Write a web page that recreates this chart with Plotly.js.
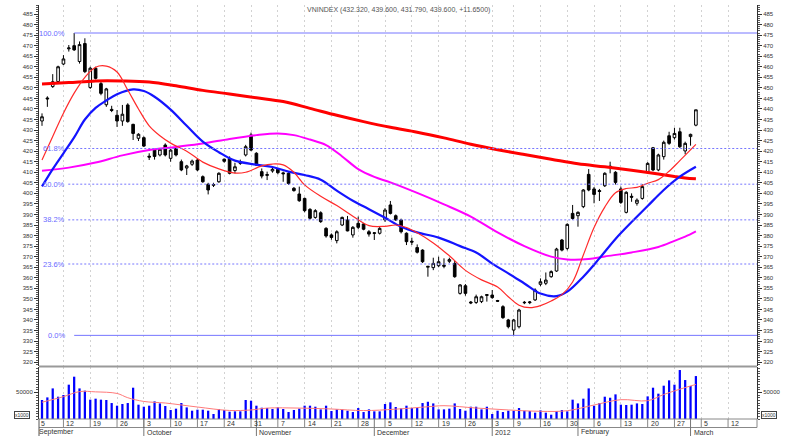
<!DOCTYPE html>
<html><head><meta charset="utf-8">
<script src="https://cdn.plot.ly/plotly-3.0.1.min.js"></script>
<style>html,body{margin:0;padding:0;background:#fff;}#chart{width:793px;height:436px;}</style>
</head><body><div id="chart"></div>
<script>
// ---- Daily candles (trading-day index 0 = 6 Sep 2011 ... 122 = 2 Mar 2012)
const openP = [434.3,445.2,450.6,453.0,461.3,468.5,470.0,462.5,471.0,450.2,
459.3,452.0,442.0,439.8,437.0,434.3,441.9,432.7,426.1,426.4,
417.6,420.5,418.2,422.9,416.6,421.3,415.0,412.0,413.8,415.8,
407.9,404.3,403.8,405.5,416.2,416.6,410.8,414.2,418.2,427.7,
419.0,410.3,408.5,410.6,411.4,409.7,409.5,402.4,399.7,397.6,
392.4,388.6,390.8,383.4,380.3,377.6,385.0,387.4,380.3,385.8,
385.5,381.8,381.0,381.1,387.4,394.5,389.4,387.4,381.1,377.3,
374.3,373.1,365.0,364.8,365.7,365.9,367.8,366.8,352.6,356.2,
348.5,348.3,348.7,351.6,351.8,349.2,346.3,340.0,335.2,336.8,
348.4,348.2,349.5,356.9,357.4,360.5,363.2,377.9,373.9,390.5,
389.4,393.7,409.0,402.1,401.3,403.6,412.4,410.0,402.1,391.0,
398.6,395.3,397.6,410.0,421.6,411.1,417.4,427.3,426.4,429.2,
420.1,426.9,432.32];
const highP = [437.9,446.0,456.5,460.5,465.5,470.3,476.0,472.0,473.5,460.0,
460.0,453.0,450.0,441.5,439.5,441.9,442.7,433.0,428.5,427.0,
419.0,421.0,421.5,423.7,421.0,422.0,416.0,413.5,416.0,416.5,
408.5,405.0,405.0,410.0,416.5,417.5,414.5,416.0,423.0,428.8,
419.5,411.8,410.3,412.6,412.0,410.3,410.0,403.0,403.2,398.0,
393.0,392.5,391.5,384.0,381.0,382.5,389.0,389.3,384.5,389.0,
386.0,382.6,381.6,384.0,393.0,396.4,390.0,388.0,381.5,379.0,
375.8,373.5,365.6,369.5,370.0,369.2,369.5,368.0,357.0,357.0,
349.0,352.0,351.5,352.3,354.2,349.5,347.0,340.5,340.5,345.3,
349.0,349.0,355.0,359.7,362.5,363.5,374.2,378.4,385.8,394.5,
391.5,402.0,411.5,403.0,402.1,410.0,415.0,410.5,403.2,401.0,
400.0,397.6,404.3,414.8,422.0,418.8,425.0,429.2,431.1,431.1,
424.5,428.3,439.6];
const lowP = [432.0,441.0,450.0,452.5,460.8,467.2,467.5,461.5,457.0,449.5,
454.0,446.5,441.0,438.5,431.5,432.0,433.5,425.3,424.8,422.0,
415.8,416.0,417.5,417.5,415.0,417.5,410.5,408.7,413.0,410.5,
405.0,399.5,403.0,405.0,414.5,409.0,409.5,413.5,417.5,420.0,
413.0,407.1,406.3,409.8,409.0,405.5,404.0,400.8,396.0,391.0,
387.6,388.0,386.0,379.0,378.0,376.3,384.5,382.0,379.0,383.0,
382.5,379.5,377.9,380.5,386.5,390.0,387.0,381.0,375.5,375.5,
371.5,367.0,360.5,363.6,365.0,364.5,367.0,360.0,352.0,351.5,
347.5,347.6,348.0,348.7,350.0,348.5,340.5,336.0,332.7,336.0,
347.5,347.5,349.0,356.0,356.5,360.0,362.8,372.5,373.0,387.5,
384.2,393.0,401.0,395.3,396.4,403.0,409.5,404.2,395.0,390.5,
396.0,394.2,397.0,409.5,410.5,410.5,416.0,423.0,425.5,421.5,
418.5,422.6,431.79];
const closeP = [436.3,444.8,452.9,460.0,463.7,468.9,468.0,470.5,457.7,459.3,
454.5,447.4,449.5,439.3,434.3,437.5,434.0,428.4,428.0,422.4,
417.2,417.5,420.9,418.2,420.5,418.2,411.1,413.0,415.3,411.1,
405.5,401.6,404.2,409.5,415.2,409.5,412.6,415.0,422.1,420.5,
413.4,408.2,408.9,411.4,409.8,409.3,404.7,401.3,396.5,391.8,
388.2,391.8,386.6,379.8,379.1,381.8,388.6,382.2,383.9,383.9,
383.0,380.7,381.3,383.4,392.1,390.5,387.4,381.8,377.1,376.9,
372.1,367.6,365.4,366.8,367.6,365.5,368.6,360.5,356.6,352.6,
348.1,351.0,351.0,352.0,350.6,348.9,341.1,336.8,340.0,344.7,
348.2,348.5,354.2,358.1,358.9,362.9,373.6,373.1,385.3,388.1,
391.0,401.6,401.6,399.5,400.9,409.5,412.8,405.2,395.7,400.5,
398.2,396.8,403.2,414.2,411.1,418.2,424.2,423.7,428.4,422.1,
423.7,427.95,439.6];
const volume = [35700,40600,57500,41900,45100,64500,79500,57500,53200,36300,
38200,36300,35700,30000,25000,28200,30000,58800,26900,23100,
25000,33100,29300,24400,16900,19400,30000,21800,15600,17500,
17500,15600,9400,18800,16900,13700,14400,14400,35700,34400,
25000,21200,20600,18800,21800,18800,13100,16900,19400,25000,
25000,23100,18100,25000,15000,18100,18100,15600,13100,20600,
13100,18100,14400,14400,28200,31300,22500,19900,25000,20600,
20600,30000,32400,29300,18100,18100,19400,29300,18800,15600,
23100,23100,18100,23100,9400,15600,13100,15600,15600,20600,
15600,15000,11900,16200,11900,8100,15000,16900,14400,36300,
29300,38200,57500,25000,30000,41900,40000,46300,26900,26300,
26900,29300,28200,42500,58800,47600,62600,72600,64500,92000,
73200,62000,80700];

// ---- Moving averages (day index, value)
const maLongIdx = [0,5,10,15,20,25,30,35,40,45,50,55,60,65,70,75,80,85,90,95,100,105,110,115,118,120,122];
const maLongVal = [451.8,452.5,453.3,453.3,452.8,451.0,448.8,447.1,445.3,443.5,440.3,437.0,434.0,431.3,429.0,426.3,423.3,420.7,418.4,416.2,414.0,412.6,411.0,409.2,408.0,407.3,406.9];
const maSlowIdx = [0,5,10,15,20,25,30,35,40,44,47,50,53,56,59,62,65,70,75,80,85,90,95,98,102,105,110,115,118,120,122];
const maSlowVal = [410.7,412.2,414.6,418.0,420.5,422.0,423.6,425.8,427.6,428.4,427.6,425.5,422.9,417.5,411.5,407.8,405.2,400.2,394.8,389.0,381.5,375.0,370.0,368.7,368.9,370.1,372.0,374.6,377.5,379.5,382.0];
const maMidIdx = [0,2,4,6,8,10,12,14,17,19,21,24,27,30,33,36,40,43,46,49,52,55,58,61,64,67,70,74,78,81,84,87,90,93,96,98,101,104,107,110,113,116,119,122];
const maMidVal = [403.3,411.5,419.0,426.5,435.0,440.5,444.0,447.0,449.3,448.5,445.8,439.7,432.0,424.5,419.5,415.5,413.6,412.5,410.3,408.7,406.5,401.3,396.5,392.5,388.4,384.2,381.5,379.0,375.0,372.0,366.7,362.1,357.3,352.5,351.3,353.4,360.5,369.2,378.4,386.4,394.0,401.6,407.9,412.6];
const maFastIdx = [0,2,4,6,8,10,12,14,16,18,20,22,24,27,30,33,36,38,41,43,45,47,49,52,55,58,61,64,66,68,70,73,76,79,82,85,87,89,91,93,95,97,99,101,103,105,107,109,111,113,115,117,119,122];
const maFastVal = [415.8,427.0,438.0,447.5,455.0,459.8,460.3,457.5,449.0,440.0,432.0,427.3,423.8,420.0,414.8,411.6,409.6,410.0,413.0,413.9,413.5,410.0,404.0,398.6,394.2,389.2,384.7,384.4,385.0,383.8,381.3,376.5,370.4,363.5,359.0,355.6,351.0,347.0,345.8,346.8,349.0,352.0,358.0,370.8,383.8,393.5,400.3,402.3,402.8,404.8,406.5,410.5,415.5,423.2];
const volMaIdx = [0,4,7,10,14,16,19,23,29,35,39,42,48,54,60,66,72,75,81,87,93,98,103,108,113,116,119,122];
const volMaVal = [31500,42000,51500,51000,48000,40000,33000,30000,22500,16000,17000,20500,20500,18800,15800,18500,23000,25000,20600,17000,14400,15600,26300,36300,34400,46000,56000,65000];

// ---- Date axis
const weekIdx = [-1,4,9,14,19,24,29,34,39,44,49,54,59,64,69,74,79,84,88,93,98,103,108,113,118,123,128];
const weekLabels = ['5','12','19','26','3','10','17','24','31','7','14','21','28','5','12','19','26','3','9','16','30','6','13','20','27','5','12'];
const monthIdx = [-1,19,40,62,84,100,121];
const monthLabels = ['September','October','November','December','2012','February','March'];
const fibRatios = [1.0,0.618,0.5,0.382,0.236,0.0];
const fibLabels = ['100.0%','61.8%','50.0%','38.2%','23.6%','0.0%'];

const XR = [-0.56, 133.4];
const PH = 431; // plot-area height (top margin 5, bottom 0)
const py = p => (436 - p) / PH;           // pixel row -> paper
const ix = i => (i - XR[0]) / (XR[1] - XR[0]); // day index -> paper x

const days = openP.map((_, i) => i);
const FONT = 'Liberation Sans, Arial, sans-serif';

const traces = [
  {type:'candlestick', x:days, open:openP, high:highP, low:lowP, close:closeP,
   xaxis:'x', yaxis:'y', hoverinfo:'skip',
   increasing:{line:{color:'#000', width:1}, fillcolor:'#fff'},
   decreasing:{line:{color:'#000', width:1}, fillcolor:'#000'}},
  {type:'scatter', mode:'lines', x:maSlowIdx, y:maSlowVal, line:{color:'#ff00ff', width:2, shape:'spline'}, xaxis:'x', yaxis:'y', hoverinfo:'skip'},
  {type:'scatter', mode:'lines', x:maLongIdx, y:maLongVal, line:{color:'#ff0000', width:3, shape:'spline'}, xaxis:'x', yaxis:'y', hoverinfo:'skip'},
  {type:'scatter', mode:'lines', x:maMidIdx, y:maMidVal, line:{color:'#1414ff', width:2.2, shape:'spline'}, xaxis:'x', yaxis:'y', hoverinfo:'skip'},
  {type:'scatter', mode:'lines', x:maFastIdx, y:maFastVal, line:{color:'#ff2a2a', width:1.2, shape:'spline'}, xaxis:'x', yaxis:'y', hoverinfo:'skip'},
  {type:'bar', x:days, y:volume, width:0.42, marker:{color:'#0000ff', line:{width:0}}, xaxis:'x', yaxis:'y2', hoverinfo:'skip'},
  {type:'scatter', mode:'lines', x:volMaIdx, y:volMaVal, line:{color:'#ff7a7a', width:1, shape:'spline'}, xaxis:'x', yaxis:'y2', hoverinfo:'skip'},
  {type:'scatter', mode:'markers', x:[0], y:[400], marker:{opacity:0, size:1}, xaxis:'x', yaxis:'y3', hoverinfo:'skip'},
  {type:'scatter', mode:'markers', x:[0], y:[0], marker:{opacity:0, size:1}, xaxis:'x', yaxis:'y4', hoverinfo:'skip'}
];

const priceAxis = {
  range:[318.18, 489.27], tickmode:'linear', tick0:320, dtick:5,
  ticks:'outside', ticklen:4, tickwidth:1, tickcolor:'#333',
  showline:true, linecolor:'#333', linewidth:1, showgrid:false, zeroline:false,
  tickfont:{family:FONT, size:6, color:'#333'},
  minor:{tick0:320, dtick:1, ticks:'outside', ticklen:2, tickcolor:'#555', showgrid:false},
  fixedrange:true
};
const volAxis = {
  range:[0, 97700], tickmode:'array', tickvals:[50000], ticktext:['50000'],
  ticks:'outside', ticklen:4, tickwidth:1, tickcolor:'#333',
  showline:true, linecolor:'#333', linewidth:1, showgrid:false, zeroline:false,
  tickfont:{family:FONT, size:6, color:'#333'},
  minor:{tick0:0, dtick:5000, ticks:'outside', ticklen:2, tickcolor:'#555', showgrid:false},
  fixedrange:true
};

const hi = Math.max(...highP), lo = Math.min(...lowP);
const hiIdx = highP.indexOf(hi);
const shapes = [], annotations = [];

fibRatios.forEach((r, k) => {
  const lvl = lo + r * (hi - lo);
  const solid = (r === 1 || r === 0);
  shapes.push({type:'line', xref:'x', yref:'y', x0: solid ? hiIdx : 4.9, x1: XR[1], y0:lvl, y1:lvl,
    line:{color:'#7676ff', width:1, dash: solid ? 'solid' : '2px,2px'}});
  annotations.push({xref:'x', yref:'y', x:4.7, y:lvl, xanchor:'right', yanchor:'middle', showarrow:false,
    text:fibLabels[k], font:{family:FONT, size:7.5, color:'#6a6aff'}});
});

// panel separator and date strip
shapes.push({type:'line', xref:'paper', yref:'paper', x0:0, x1:1, y0:py(366.5), y1:py(366.5), line:{color:'#999', width:1.8}});
shapes.push({type:'line', xref:'paper', yref:'paper', x0:0, x1:1, y0:py(419), y1:py(419), line:{color:'#888', width:1}});
shapes.push({type:'line', xref:'paper', yref:'paper', x0:0, x1:1, y0:py(427.5), y1:py(427.5), line:{color:'#888', width:1}});
shapes.push({type:'line', xref:'paper', yref:'paper', x0:0, x1:0, y0:py(436), y1:py(419), line:{color:'#555', width:1}});
shapes.push({type:'line', xref:'paper', yref:'paper', x0:1, x1:1, y0:py(427.5), y1:py(419), line:{color:'#888', width:1}});

weekIdx.forEach((w, k) => {
  const px = ix(w);
  if (px > 0.001 && px < 0.999) {
    shapes.push({type:'line', xref:'paper', yref:'paper', x0:px, x1:px, y0:py(427.5), y1:py(419), line:{color:'#888', width:1}});
  }
  if (px < 0.985) {
    annotations.push({xref:'paper', yref:'paper', x:Math.max(px, 0), y:py(423.5), xanchor:'left', yanchor:'middle',
      xshift: px < 0 ? 0 : 1, showarrow:false, text:weekLabels[k], font:{family:FONT, size:7, color:'#333'}});
  }
});
monthIdx.forEach((m, k) => {
  const px = ix(m);
  if (px > 0.001) {
    shapes.push({type:'line', xref:'paper', yref:'paper', x0:px, x1:px, y0:py(436), y1:py(419), line:{color:'#777', width:1}});
  }
  annotations.push({xref:'paper', yref:'paper', x:Math.max(px, 0), y:py(432), xanchor:'left', yanchor:'middle',
    xshift: px < 0 ? -2 : 1, showarrow:false, text:monthLabels[k], font:{family:FONT, size:7, color:'#333'}});
});

// title from the last candle
const n = closeP.length - 1;
const chg = closeP[n] - closeP[n - 1];
annotations.push({xref:'paper', yref:'paper', x:(398 - 39) / 718, y:py(9.5), xanchor:'center', yanchor:'middle', showarrow:false,
  text:`VNINDEX (${openP[n].toFixed(3)}, ${highP[n].toFixed(3)}, ${lowP[n].toFixed(3)}, ${closeP[n].toFixed(3)}, ${chg >= 0 ? '+' : ''}${chg.toFixed(4)})`,
  font:{family:FONT, size:7, color:'#555'}});

// x1000 unit boxes
annotations.push({xref:'paper', yref:'paper', x:(22 - 39) / 718, y:py(414.5), xanchor:'center', yanchor:'middle', showarrow:false,
  text:'x1000', font:{family:FONT, size:5, color:'#333'}, bordercolor:'#444', borderwidth:1, borderpad:0});
annotations.push({xref:'paper', yref:'paper', x:(769 - 39) / 718, y:py(415), xanchor:'center', yanchor:'middle', showarrow:false,
  text:'x1000', font:{family:FONT, size:5, color:'#333'}, bordercolor:'#444', borderwidth:1, borderpad:0});

const layout = {
  width:793, height:436,
  margin:{l:39, r:36, t:5, b:0, pad:0},
  paper_bgcolor:'#fff', plot_bgcolor:'#fff',
  showlegend:false, font:{family:FONT, size:7, color:'#333'},
  xaxis:{range:XR, anchor:'y2', tickmode:'array', tickvals:weekIdx, showticklabels:false, ticks:'',
    showgrid:true, gridcolor:'#d2d2d2', gridwidth:1, griddash:'2px,3px', zeroline:false, showline:false,
    rangeslider:{visible:false}, fixedrange:true},
  yaxis:Object.assign({domain:[py(366), 1], anchor:'x', side:'left'}, priceAxis),
  yaxis3:Object.assign({overlaying:'y', anchor:'x', side:'right'}, priceAxis),
  yaxis2:Object.assign({domain:[py(419), py(367)], anchor:'x', side:'left'}, volAxis),
  yaxis4:Object.assign({overlaying:'y2', anchor:'x', side:'right'}, volAxis),
  shapes:shapes, annotations:annotations
};

Plotly.newPlot('chart', traces, layout, {staticPlot:true, displayModeBar:false});
</script></body></html>
